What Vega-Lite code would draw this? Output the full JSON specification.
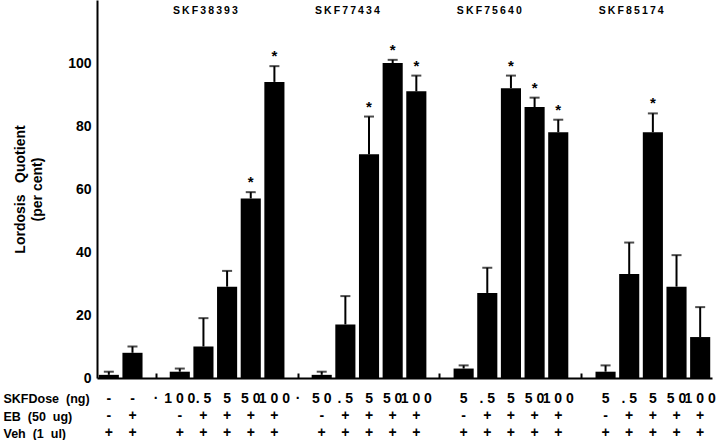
{
  "$schema": "https://vega.github.io/schema/vega-lite/v6.json",
  "background": "white",
  "padding": {"left": 3, "top": 0, "right": 0, "bottom": 0},
  "config": {
    "view": {"stroke": null},
    "font": "Liberation Sans"
  },
  "datasets": {
    "bars": [
      {"slot": "V1", "dose": "-", "eb": "-", "veh": "+", "mean": 1, "upper": 2, "sig": false},
      {"slot": "V2", "dose": "-", "eb": "+", "veh": "+", "mean": 8, "upper": 10, "sig": false},
      {"slot": "A1", "dose": "1 0 0", "eb": "-", "veh": "+", "mean": 2, "upper": 3, "sig": false},
      {"slot": "A2", "dose": ". 5", "eb": "+", "veh": "+", "mean": 10, "upper": 19, "sig": false},
      {"slot": "A3", "dose": "5", "eb": "+", "veh": "+", "mean": 29, "upper": 34, "sig": false},
      {"slot": "A4", "dose": "5 0", "eb": "+", "veh": "+", "mean": 57, "upper": 59, "sig": true},
      {"slot": "A5", "dose": "1 0 0", "eb": "+", "veh": "+", "mean": 94, "upper": 99, "sig": true},
      {"slot": "B1", "dose": "5 0", "eb": "-", "veh": "+", "mean": 1, "upper": 2, "sig": false},
      {"slot": "B2", "dose": ". 5", "eb": "+", "veh": "+", "mean": 17, "upper": 26, "sig": false},
      {"slot": "B3", "dose": "5", "eb": "+", "veh": "+", "mean": 71, "upper": 83, "sig": true},
      {"slot": "B4", "dose": "5 0", "eb": "+", "veh": "+", "mean": 100, "upper": 101, "sig": true},
      {"slot": "B5", "dose": "1 0 0", "eb": "+", "veh": "+", "mean": 91, "upper": 96, "sig": true},
      {"slot": "C1", "dose": "5", "eb": "-", "veh": "+", "mean": 3, "upper": 4, "sig": false},
      {"slot": "C2", "dose": ". 5", "eb": "+", "veh": "+", "mean": 27, "upper": 35, "sig": false},
      {"slot": "C3", "dose": "5", "eb": "+", "veh": "+", "mean": 92, "upper": 96, "sig": true},
      {"slot": "C4", "dose": "5 0", "eb": "+", "veh": "+", "mean": 86, "upper": 89, "sig": true},
      {"slot": "C5", "dose": "1 0 0", "eb": "+", "veh": "+", "mean": 78, "upper": 82, "sig": true},
      {"slot": "D1", "dose": "5", "eb": "-", "veh": "+", "mean": 2, "upper": 4, "sig": false},
      {"slot": "D2", "dose": ". 5", "eb": "+", "veh": "+", "mean": 33, "upper": 43, "sig": false},
      {"slot": "D3", "dose": "5", "eb": "+", "veh": "+", "mean": 78, "upper": 84, "sig": true},
      {"slot": "D4", "dose": "5 0", "eb": "+", "veh": "+", "mean": 29, "upper": 39, "sig": false},
      {"slot": "D5", "dose": "1 0 0", "eb": "+", "veh": "+", "mean": 13, "upper": 22.5, "sig": false}
    ],
    "groups": [
      {"slot": "A2", "name": "S\u2009K\u2009F\u20093\u20098\u20093\u20099\u20093", "level": 116.5},
      {"slot": "B2", "name": "S\u2009K\u2009F\u20097\u20097\u20094\u20093\u20094", "level": 116.5},
      {"slot": "C2", "name": "S\u2009K\u2009F\u20097\u20095\u20096\u20094\u20090", "level": 116.5},
      {"slot": "D2", "name": "S\u2009K\u2009F\u20098\u20095\u20091\u20097\u20094", "level": 116.5}
    ],
    "dots": [
      {"slot": "G1", "key": "dose", "txt": "·"},
      {"slot": "G2", "key": "dose", "txt": "·"}
    ]
  },
  "spacing": 5,
  "vconcat": [
    {
      "width": 615,
      "height": 378,
      "layer": [
        {
          "data": {"name": "bars"},
          "mark": {"type": "bar", "color": "black"},
          "encoding": {
            "x": {
              "field": "slot", "type": "nominal",
              "scale": {"domain": ["V1","V2","G1","A1","A2","A3","A4","A5","G2","B1","B2","B3","B4","B5","G3","C1","C2","C3","C4","C5","G4","D1","D2","D3","D4","D5"], "paddingInner": 0.15, "paddingOuter": 0.075},
              "axis": {"title": null, "labels": false, "values": ["G1","G2","G3","G4"], "ticks": true, "tickSize": -5, "tickWidth": 2, "tickColor": "black", "domainColor": "black", "domainWidth": 2}
            },
            "y": {
              "field": "mean", "type": "quantitative",
              "scale": {"domain": [0, 120], "nice": false},
              "axis": {
                "values": [0, 20, 40, 60, 80, 100],
                "grid": false, "ticks": false,
                "domainColor": "black", "domainWidth": 2,
                "labelFont": "Liberation Sans", "labelFontWeight": "bold", "labelFontSize": 14, "labelColor": "black", "labelPadding": 6,
                "title": ["Lordosis\u00a0\u00a0\u00a0Quotient", "(per cent)"],
                "titleFont": "Liberation Sans", "titleFontWeight": "bold", "titleFontSize": 14, "titleColor": "black",
                "titleLineHeight": 17, "titlePadding": 23
              }
            }
          }
        },
        {
          "data": {"name": "bars"},
          "mark": {"type": "rule", "color": "black", "strokeWidth": 2},
          "encoding": {
            "x": {"field": "slot", "type": "nominal"},
            "y": {"field": "mean", "type": "quantitative"},
            "y2": {"field": "upper"}
          }
        },
        {
          "data": {"name": "bars"},
          "mark": {"type": "tick", "color": "black", "size": 10, "thickness": 2},
          "encoding": {
            "x": {"field": "slot", "type": "nominal"},
            "y": {"field": "upper", "type": "quantitative"}
          }
        },
        {
          "data": {"name": "bars"},
          "transform": [{"filter": "datum.sig"}],
          "mark": {"type": "text", "text": "*", "fontSize": 15, "fontWeight": "bold", "color": "black", "dy": -5, "baseline": "alphabetic"},
          "encoding": {
            "x": {"field": "slot", "type": "nominal"},
            "y": {"field": "upper", "type": "quantitative"}
          }
        },
        {
          "data": {"name": "groups"},
          "mark": {"type": "text", "fontSize": 10.5, "fontWeight": "bold", "color": "black", "dx": 2, "baseline": "middle"},
          "encoding": {
            "x": {"field": "slot", "type": "nominal"},
            "y": {"field": "level", "type": "quantitative"},
            "text": {"field": "name"}
          }
        }
      ]
    },
    {
      "width": 615,
      "height": 52,
      "layer": [
        {
          "data": {"name": "bars"},
          "transform": [{"fold": ["dose", "eb", "veh"], "as": ["key", "txt"]}],
          "mark": {"type": "text", "fontSize": 14, "fontWeight": "bold", "color": "black", "baseline": "middle"},
          "encoding": {
            "x": {
              "field": "slot", "type": "nominal",
              "scale": {"domain": ["V1","V2","G1","A1","A2","A3","A4","A5","G2","B1","B2","B3","B4","B5","G3","C1","C2","C3","C4","C5","G4","D1","D2","D3","D4","D5"], "paddingInner": 0.15, "paddingOuter": 0.075},
              "axis": null
            },
            "y": {
              "field": "key", "type": "nominal",
              "scale": {"domain": ["dose", "eb", "veh"], "paddingInner": 0, "paddingOuter": 0},
              "axis": {
                "title": null, "ticks": false, "domain": false,
                "labelAlign": "left", "labelPadding": 94, "labelBaseline": "middle",
                "labelFont": "Liberation Sans", "labelFontWeight": "bold", "labelFontSize": 12.5, "labelColor": "black",
                "labelExpr": "datum.value == 'dose' ? 'SKFDose\u00a0\u00a0(ng)' : datum.value == 'eb' ? 'EB\u00a0\u00a0(50\u00a0\u00a0ug)' : 'Veh\u00a0\u00a0(1\u00a0\u00a0ul)'"
              }
            },
            "text": {"field": "txt"}
          }
        },
        {
          "data": {"name": "dots"},
          "mark": {"type": "text", "fontSize": 14, "fontWeight": "bold", "color": "black", "baseline": "middle"},
          "encoding": {
            "x": {"field": "slot", "type": "nominal"},
            "y": {"field": "key", "type": "nominal"},
            "text": {"field": "txt"}
          }
        }
      ]
    }
  ]
}
